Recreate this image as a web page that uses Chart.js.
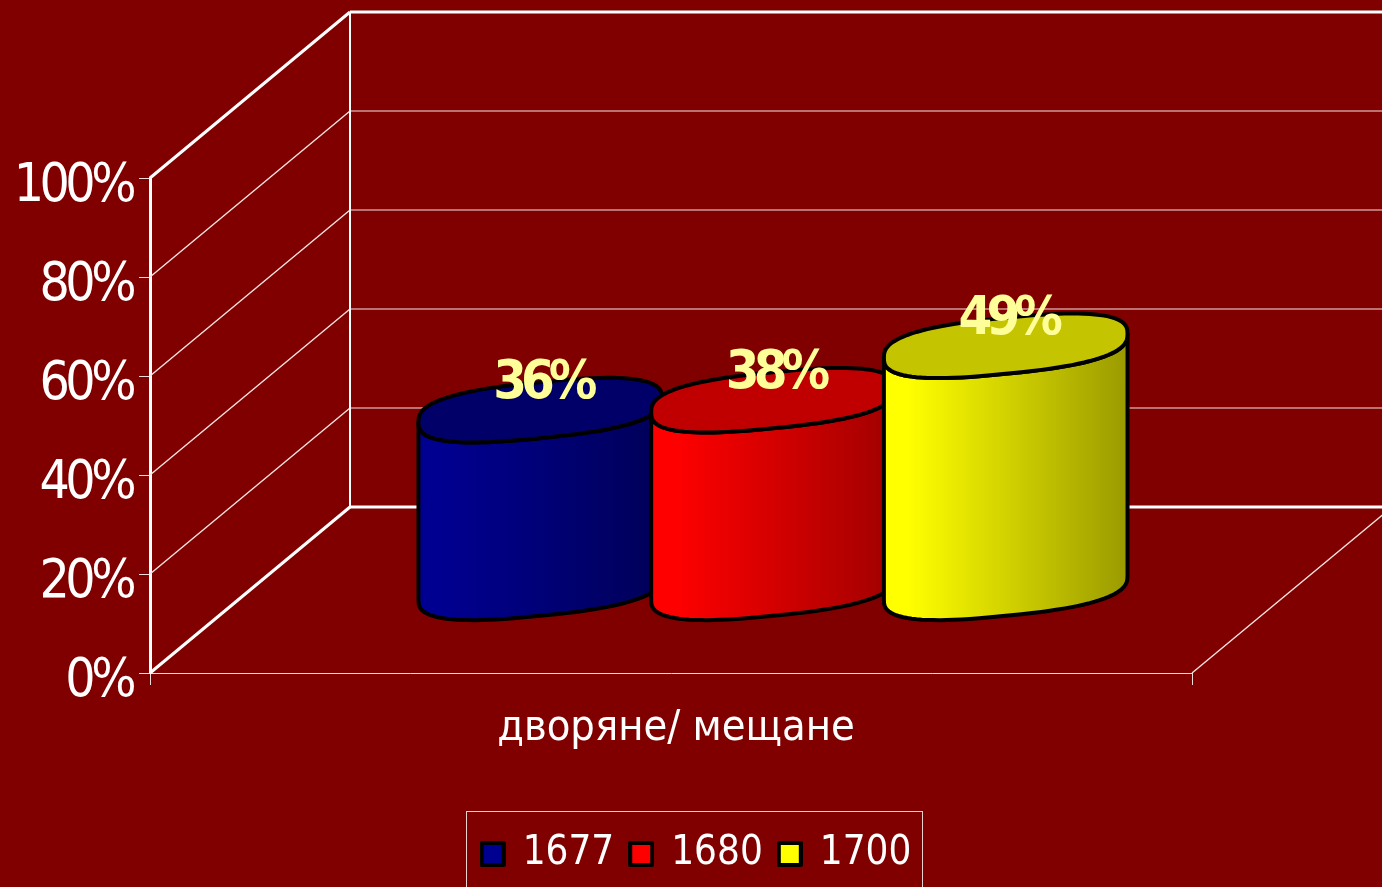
<!DOCTYPE html>
<html lang="ru">
<head>
  <meta charset="UTF-8" />
  <title>дворяне/ мещане</title>
  <script src="https://cdn.jsdelivr.net/npm/chart.js"></script>
  <style>
    html, body { margin: 0; background: #800000; overflow: hidden; }
    canvas { display: block; }
  </style>
</head>
<body>
  <canvas id="chart" width="1382" height="887"></canvas>

  <script>
    const categories = ['дворяне/ мещане'];
    const years = ['1677', '1680', '1700'];
    const values1677 = [36];
    const values1680 = [38];
    const values1700 = [49];
    const yTicks = [0, 20, 40, 60, 80, 100];

    const fontName = '"DejaVu Sans Condensed", "DejaVu Sans", sans-serif';
    const colors = ['#000090', '#ff0000', '#ffff00'];
    const darkSides = ['#000058', '#a00000', '#9a9a00'];
    const topColors = ['#000068', '#c00000', '#c4c400'];

    // how far the back wall sits behind the front plane, in px
    const wallDX = 200;
    const wallDY = 166;
    // the bars stand roughly half way back
    const barDepth = 0.51;

    // y axis labels overlap each other in the original
    class TightLinearScale extends Chart.LinearScale {
      static id = 'tightLinear';
      drawLabels(area) {
        this.ctx.letterSpacing = '-4.5px';
        super.drawLabels(area);
        this.ctx.letterSpacing = '0px';
      }
    }
    Chart.register(TightLinearScale);

    function line(ctx, x1, y1, x2, y2, width, color) {
      ctx.beginPath();
      ctx.moveTo(x1, y1);
      ctx.lineTo(x2, y2);
      ctx.lineWidth = width;
      ctx.strokeStyle = color || '#fff';
      ctx.stroke();
    }

    const wallsPlugin = {
      id: 'walls',
      beforeDatasetsDraw(chart) {
        const ctx = chart.ctx;
        const area = chart.chartArea;
        const y = chart.scales.y;
        ctx.save();
        yTicks.forEach(v => {
          const py = y.getPixelForValue(v);
          const edge = v === 0 || v === 100;
          line(ctx, area.left, py, area.left + wallDX, py - wallDY, edge ? 3 : 1.4, edge ? '#fff' : '#f4e4e4');
          line(ctx, area.left + wallDX, py - wallDY, chart.width, py - wallDY, edge ? 3 : 1.2, edge ? '#fff' : '#f4e4e4');
        });
        line(ctx, area.left + wallDX, area.top - wallDY, area.left + wallDX, area.bottom - wallDY, 2);
        line(ctx, area.right, area.bottom, area.right + wallDX, area.bottom - wallDY, 1.4, '#f4e4e4');
        ctx.restore();
      }
    };

    // squarish ellipse, tipped up to the right like the original's top faces
    function rimPoint(cx, cy, a, b, t) {
      const c = Math.cos(t);
      const s = Math.sin(t);
      const px = Math.sign(c) * Math.pow(Math.abs(c), 0.75);
      const py = Math.sign(s) * Math.pow(Math.abs(s), 0.75);
      return [cx + a * px, cy - 12 * px + b * py];
    }

    function drawCylinder(ctx, el, i) {
      const a = el.width / 2;
      const b = 28;
      const cx = el.x + wallDX * barDepth;
      const top = el.y - wallDY * barDepth;
      const bottom = el.base - wallDY * barDepth;
      const steps = 48;

      const grad = ctx.createLinearGradient(cx - a, 0, cx + a, 0);
      grad.addColorStop(0, colors[i]);
      grad.addColorStop(0.1, colors[i]);
      grad.addColorStop(1, darkSides[i]);

      ctx.beginPath();
      for (let n = 0; n <= steps; n++) {
        const p = rimPoint(cx, bottom, a, b, Math.PI - n / steps * Math.PI);
        if (n === 0) ctx.moveTo(p[0], p[1]);
        else ctx.lineTo(p[0], p[1]);
      }
      for (let n = 0; n <= steps; n++) {
        const p = rimPoint(cx, top, a, b, n / steps * Math.PI);
        ctx.lineTo(p[0], p[1]);
      }
      ctx.closePath();
      ctx.fillStyle = grad;
      ctx.fill();
      ctx.lineWidth = 4;
      ctx.lineJoin = 'round';
      ctx.strokeStyle = '#000';
      ctx.stroke();

      ctx.beginPath();
      for (let n = 0; n < steps * 2; n++) {
        const p = rimPoint(cx, top, a, b, n / steps * Math.PI);
        if (n === 0) ctx.moveTo(p[0], p[1]);
        else ctx.lineTo(p[0], p[1]);
      }
      ctx.closePath();
      ctx.fillStyle = topColors[i];
      ctx.fill();
      ctx.stroke();
    }

    const cylinderPlugin = {
      id: 'cylinders',
      beforeDatasetDraw() {
        return false;
      },
      afterDatasetsDraw(chart) {
        const ctx = chart.ctx;
        ctx.save();
        chart.data.datasets.forEach((ds, i) => {
          const el = chart.getDatasetMeta(i).data[0];
          drawCylinder(ctx, el, i);
        });
        // value labels go on top of all three
        ctx.font = 'bold 54px ' + fontName;
        ctx.letterSpacing = '-6px';
        ctx.textAlign = 'center';
        ctx.textBaseline = 'middle';
        ctx.fillStyle = '#ffff99';
        chart.data.datasets.forEach((ds, i) => {
          const el = chart.getDatasetMeta(i).data[0];
          ctx.fillText(ds.data[0] + '%', el.x + wallDX * barDepth + 2, el.y - wallDY * barDepth - 26);
        });
        ctx.restore();
      }
    };

    const legendBoxPlugin = {
      id: 'legendBox',
      afterLayout(chart) {
        const legend = chart.legend;
        // wider than the drawn frame so the three items stay on one line
        legend.left = 366;
        legend.right = 1028;
        legend.top = 817;
        legend.bottom = 887;
      },
      afterDraw(chart) {
        const ctx = chart.ctx;
        ctx.save();
        ctx.strokeStyle = '#e8d0d0';
        ctx.lineWidth = 1;
        ctx.strokeRect(466.5, 811.5, 456, 100);
        ctx.restore();
      }
    };

    function swatch(color) {
      const c = document.createElement('canvas');
      c.width = 26;
      c.height = 26;
      const g = c.getContext('2d');
      g.fillStyle = color;
      g.strokeStyle = '#000';
      g.lineWidth = 4;
      g.lineJoin = 'round';
      g.beginPath();
      g.rect(2, 2, 22, 22);
      g.fill();
      g.stroke();
      return c;
    }

    const config = {
      type: 'bar',
      data: {
        labels: categories,
        datasets: [
          { label: years[0], data: values1677, backgroundColor: colors[0] },
          { label: years[1], data: values1680, backgroundColor: colors[1] },
          { label: years[2], data: values1700, backgroundColor: colors[2] }
        ]
      },
      options: {
        responsive: false,
        animation: false,
        categoryPercentage: 0.67,
        barPercentage: 1.047,
        layout: { padding: { top: 178, right: 190, bottom: 47, left: 0 } },
        plugins: {
          tooltip: { enabled: false },
          legend: {
            position: 'bottom',
            labels: {
              color: '#fff',
              font: { family: fontName, size: 40 },
              padding: 17,
              usePointStyle: true,
              pointStyleWidth: 20,
              boxHeight: 26,
              generateLabels: chart => chart.data.datasets.map((ds, i) => ({
                text: ds.label,
                datasetIndex: i,
                pointStyle: swatch(colors[i]),
                fontColor: '#fff'
              }))
            }
          }
        },
        scales: {
          x: {
            afterFit: scale => { scale.height = 100; },
            border: { color: '#f0dcdc', width: 1 },
            grid: { drawOnChartArea: false, color: '#f0dcdc', tickLength: 12 },
            ticks: {
              color: '#fff',
              padding: 18,
              labelOffset: 5,
              maxRotation: 0,
              font: { family: fontName, size: 43 }
            }
          },
          y: {
            type: 'tightLinear',
            min: 0,
            max: 100,
            afterFit: scale => { scale.width = 150; },
            afterBuildTicks: scale => { scale.ticks = yTicks.map(v => ({ value: v })); },
            border: { color: '#fff', width: 3 },
            grid: { drawOnChartArea: false, color: '#f0dcdc', tickLength: 11 },
            ticks: {
              color: '#fff',
              padding: 7,
              labelOffset: 9,
              font: { family: fontName, size: 53 },
              callback: v => v + '%'
            }
          }
        }
      },
      plugins: [wallsPlugin, cylinderPlugin, legendBoxPlugin]
    };

    new Chart(document.getElementById('chart'), config);
  </script>
</body>
</html>
